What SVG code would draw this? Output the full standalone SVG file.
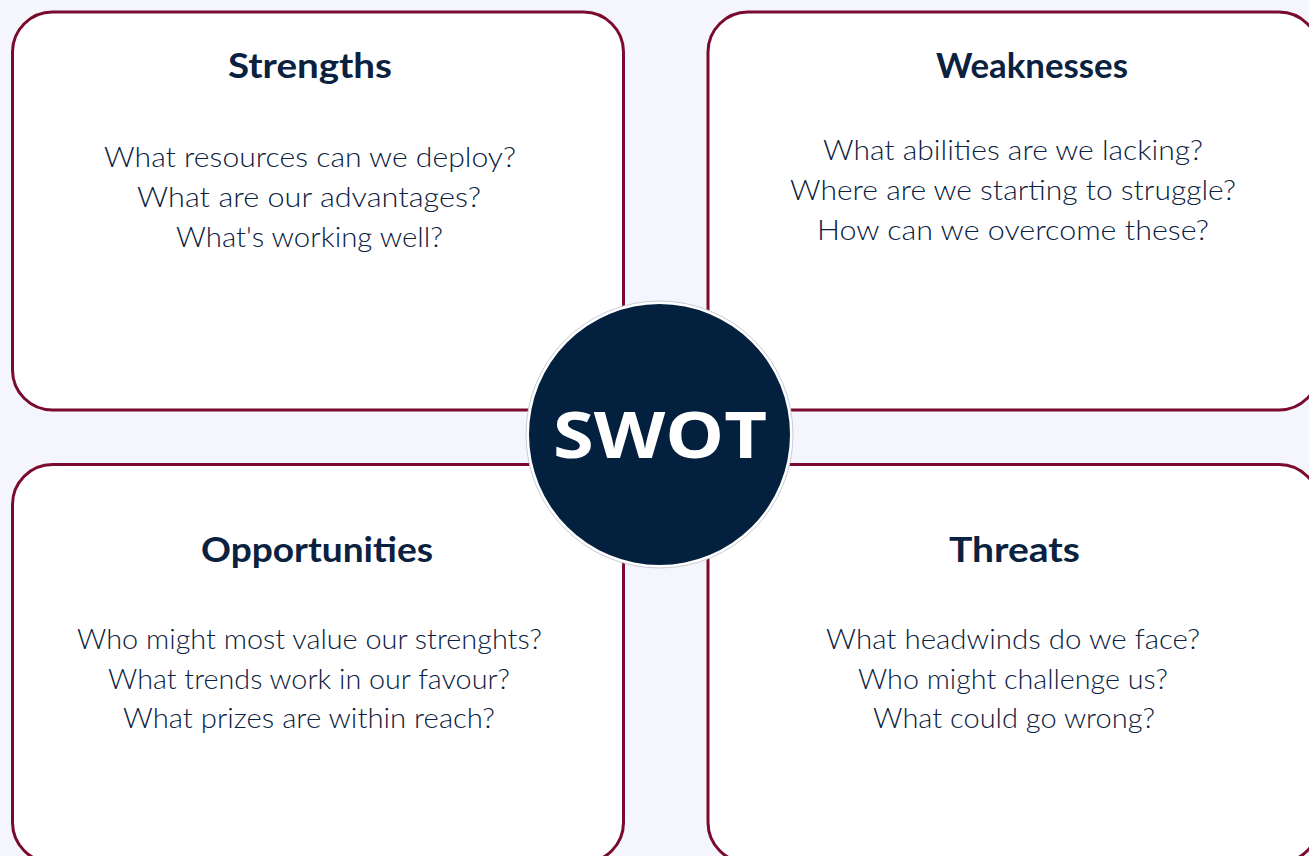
<svg xmlns="http://www.w3.org/2000/svg" width="1309" height="856" viewBox="0 0 1309 856">
  <style>
    .card { fill: #ffffff; stroke: #7a0a2e; stroke-width: 3; }
    .title { font-family: "Lato", "Liberation Sans", sans-serif; font-weight: 700; font-size: 35px; fill: #0b2140; text-anchor: middle; }
    .body { font-family: "Lato", "Liberation Sans", sans-serif; font-weight: 300; font-size: 28px; fill: #0b2140; text-anchor: middle; }
    .hub-ring { fill: #ffffff; stroke: #c9ccd6; stroke-width: 1; }
    .hub { fill: #03203f; }
    .hub-label { font-family: "Open Sans", "Liberation Sans", sans-serif; font-weight: 700; font-size: 64px; fill: #ffffff; text-anchor: middle; }
  </style>

  <!-- page background -->
  <rect x="0" y="0" width="1309" height="856" fill="#f5f6fd"/>

  <!-- Strengths quadrant -->
  <g id="strengths">
    <rect class="card" x="12.5" y="12" width="611" height="398" rx="40" ry="40"/>
    <text class="title" x="310" y="78" textLength="164" lengthAdjust="spacingAndGlyphs">Strengths</text>
    <text class="body" x="310" y="167" textLength="412" lengthAdjust="spacingAndGlyphs">What resources can we deploy?</text>
    <text class="body" x="309" y="207" textLength="344" lengthAdjust="spacingAndGlyphs">What are our advantages?</text>
    <text class="body" x="309.5" y="247" textLength="267" lengthAdjust="spacingAndGlyphs">What's working well?</text>
  </g>

  <!-- Weaknesses quadrant -->
  <g id="weaknesses">
    <rect class="card" x="708" y="12" width="611" height="398" rx="40" ry="40"/>
    <text class="title" x="1032" y="78" textLength="192" lengthAdjust="spacingAndGlyphs">Weaknesses</text>
    <text class="body" x="1013" y="160" textLength="380" lengthAdjust="spacingAndGlyphs">What abilities are we lacking?</text>
    <text class="body" x="1013" y="200" textLength="446" lengthAdjust="spacingAndGlyphs">Where are we starting to struggle?</text>
    <text class="body" x="1013" y="240" textLength="392" lengthAdjust="spacingAndGlyphs">How can we overcome these?</text>
  </g>

  <!-- Opportunities quadrant -->
  <g id="opportunities">
    <rect class="card" x="12.5" y="464.5" width="611" height="398" rx="40" ry="40"/>
    <text class="title" x="317" y="562" textLength="232" lengthAdjust="spacingAndGlyphs">Opportunities</text>
    <text class="body" x="309.5" y="649" textLength="465" lengthAdjust="spacingAndGlyphs">Who might most value our strenghts?</text>
    <text class="body" x="309" y="688.5" textLength="402" lengthAdjust="spacingAndGlyphs">What trends work in our favour?</text>
    <text class="body" x="309" y="728" textLength="372" lengthAdjust="spacingAndGlyphs">What prizes are within reach?</text>
  </g>

  <!-- Threats quadrant -->
  <g id="threats">
    <rect class="card" x="708" y="464.5" width="611" height="398" rx="40" ry="40"/>
    <text class="title" x="1014.5" y="562" textLength="131" lengthAdjust="spacingAndGlyphs">Threats</text>
    <text class="body" x="1013" y="649" textLength="374" lengthAdjust="spacingAndGlyphs">What headwinds do we face?</text>
    <text class="body" x="1013" y="688.5" textLength="310" lengthAdjust="spacingAndGlyphs">Who might challenge us?</text>
    <text class="body" x="1014" y="728" textLength="282" lengthAdjust="spacingAndGlyphs">What could go wrong?</text>
  </g>

  <!-- central SWOT badge -->
  <g id="swot">
    <circle class="hub-ring" cx="659.5" cy="434.5" r="133.5"/>
    <circle class="hub" cx="659.5" cy="434.5" r="130.5"/>
    <text class="hub-label" x="660" y="458" textLength="214" lengthAdjust="spacingAndGlyphs">SWOT</text>
  </g>
</svg>
